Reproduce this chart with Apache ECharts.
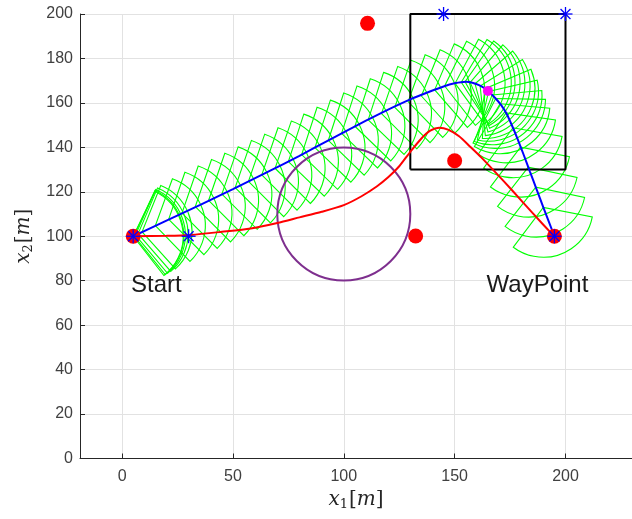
<!DOCTYPE html>
<html>
<head>
<meta charset="utf-8">
<script src="https://cdn.jsdelivr.net/npm/echarts@6/dist/echarts.min.js"></script>
<style>
  html, body { margin: 0; padding: 0; background: #ffffff; }
  #chart { width: 632px; height: 519px; }
</style>
</head>
<body>
<div id="chart"></div>
<script>
// Planned path (blue) from the start to the waypoint
const pathX = [5, 20, 35, 50, 65, 80, 95, 110, 120, 130, 138, 145, 150, 155, 158, 161, 163.5, 166, 168.5, 171, 173.5, 176, 178.5, 181, 184, 187, 190, 195];
const pathY = [100, 107, 114, 121.2, 128.6, 136.2, 144.2, 152, 157, 161.6, 164.8, 167.4, 168.8, 169.5, 169.1, 168, 166.6, 164.5, 162, 159, 155, 149.5, 143.5, 137, 129, 121, 113, 100];

// Alternative trajectory (red)
const trajX = [5, 20, 31, 45, 58, 70, 80, 90, 100, 108, 115, 120, 125, 130, 135, 139, 143, 147, 152, 157, 162, 168, 176, 185, 195];
const trajY = [100, 100.2, 100.6, 102, 103.5, 106, 108.5, 111, 114, 118, 122.5, 126.5, 131.5, 138, 144, 147.5, 148.8, 148, 145, 140.3, 135.5, 129.2, 120.6, 110.6, 99.8];

// Sensor footprint poses along the planned path: position and heading (deg)
const poseX = [5.0, 5.3, 6.0, 7.2, 9.0,
  15, 21, 27, 33, 39, 45, 51, 57, 63, 69, 75, 81, 87, 93, 99, 105, 111, 117, 123, 129, 135,
  141, 145.5, 150.2, 153, 154.7, 157, 159.2, 161.5, 163.7, 165.3, 166.9, 168.5, 170.5,
  173.2, 176.3, 179.7, 183.2, 186.6, 190];
const poseY = [100.0, 100.2, 100.5, 101.1, 102.0,
  104.8, 107.6, 110.4, 113.3, 116.1, 119.0, 121.9, 124.7, 127.6, 130.6, 133.6, 136.7, 139.9, 143.1, 146.3, 149.5, 152.4, 155.2, 158.0, 160.6, 163.1,
  165.9, 167.6, 168.8, 169.3, 169.5, 169.2, 168.6, 167.6, 166.4, 165.2, 163.6, 162.0, 159.6,
  155.5, 148.8, 140.1, 131.1, 122.1, 113.0];
const poseHeading = [6, 7, 8, 9, 10,
  12, 13, 13, 13, 13, 13, 13, 13, 13, 13, 14, 14, 14, 14, 14, 14, 14, 13, 13, 12, 10,
  9, 6, 4, 1, -3, -9, -17, -26, -35, -45, -53, -59, -63,
  -66, -68, -69, -70, -70, -69];
const sensorRange = 22.5;    // footprint radius [m]
const sensorHalfAngle = 58;  // half opening angle [deg]

// Obstacles (red dots)
const obstacleX = [110.7, 132.4, 150];
const obstacleY = [195.8, 100.1, 134];

// Start and waypoint
const endpointX = [5, 195];
const endpointY = [100, 100];

// Reference points (blue asterisks)
const starX = [5, 30, 145, 200, 195];
const starY = [100, 100, 200, 200, 100];

// Check point (magenta)
const checkX = [165];
const checkY = [165.4];

// Target region (black box)
const boxX = [130, 130, 200, 200, 130];
const boxY = [130, 200, 200, 130, 130];

// Circular no-go zone
const zoneX = [100];
const zoneY = [110];
const zoneR = [30];

// Annotations
const noteText = ['Start', 'WayPoint'];
const noteX = [4, 164.4];
const noteY = [78, 78];

// Axis ticks
const xTicks = [0, 50, 100, 150, 200];

const pairs = (xs, ys) => xs.map((x, i) => [x, ys[i]]);

const axisColor = '#262626';
const labelFont = '"Liberation Sans", Arial, Helvetica, sans-serif';
const mathRich = {
  i: { fontFamily: '"DejaVu Serif", "Liberation Serif", serif', fontStyle: 'italic', fontSize: 20, color: axisColor },
  s: { fontFamily: '"DejaVu Serif", "Liberation Serif", serif', fontSize: 13, color: axisColor, verticalAlign: 'bottom', padding: [10, 1, 0, 0] },
  n: { fontFamily: '"DejaVu Serif", "Liberation Serif", serif', fontSize: 20, color: axisColor }
};

const chart = echarts.init(document.getElementById('chart'), null, { renderer: 'canvas' });

chart.setOption({
  animation: false,
  backgroundColor: '#ffffff',
  textStyle: { fontFamily: labelFont },
  grid: { left: 80, top: 14, width: 552, height: 444.5, outerBoundsMode: 'none', containLabel: false },
  xAxis: {
    type: 'value', min: -19, max: 230,
    axisLine: { show: true, onZero: false, lineStyle: { color: axisColor, width: 1 } },
    axisTick: { show: true, inside: true, length: 5, customValues: xTicks, lineStyle: { color: axisColor } },
    axisLabel: { customValues: xTicks, color: '#404040', fontSize: 16, margin: 10, fontFamily: labelFont },
    splitLine: { show: true, lineStyle: { color: '#e2e2e2', width: 1 } },
    name: '{i|x}{s|1}{n|[}{i|m}{n|]}',
    nameLocation: 'middle', nameGap: 30,
    nameTextStyle: { rich: mathRich }
  },
  yAxis: {
    type: 'value', min: 0, max: 200, interval: 20,
    axisLine: { show: true, onZero: false, lineStyle: { color: axisColor, width: 1 } },
    axisTick: { show: true, inside: true, length: 5, lineStyle: { color: axisColor } },
    axisLabel: { color: '#404040', fontSize: 16, margin: 7, fontFamily: labelFont },
    splitLine: { show: true, lineStyle: { color: '#e2e2e2', width: 1 } },
    name: '{i|x}{s|2}{n|[}{i|m}{n|]}',
    nameLocation: 'middle', nameGap: 37,
    nameTextStyle: { rich: mathRich }
  },
  series: [
    {
      // sensor footprints (green sectors)
      type: 'custom',
      z: 1,
      silent: true,
      encode: { x: 0, y: 1 },
      data: poseX.map((x, i) => [x, poseY[i], poseHeading[i]]),
      renderItem: function (params, api) {
        const c = api.coord([api.value(0), api.value(1)]);
        const r = api.size([sensorRange, 0])[0];
        const h = api.value(2) * Math.PI / 180;
        const a = sensorHalfAngle * Math.PI / 180;
        return {
          type: 'sector',
          shape: { cx: c[0], cy: c[1], r: r, r0: 0, startAngle: -h - a, endAngle: -h + a, clockwise: true },
          style: { fill: 'none', stroke: '#00ff00', lineWidth: 1.1 }
        };
      }
    },
    {
      // target region
      type: 'line', z: 2, silent: true,
      data: pairs(boxX, boxY),
      symbol: 'none',
      lineStyle: { color: '#000000', width: 2 }
    },
    {
      // circular no-go zone
      type: 'custom', z: 3, silent: true,
      encode: { x: 0, y: 1 },
      data: zoneX.map((x, i) => [x, zoneY[i], zoneR[i]]),
      renderItem: function (params, api) {
        const c = api.coord([api.value(0), api.value(1)]);
        const r = api.size([api.value(2), 0])[0];
        return {
          type: 'circle',
          shape: { cx: c[0], cy: c[1], r: r },
          style: { fill: 'none', stroke: '#7e2f8e', lineWidth: 2 }
        };
      }
    },
    {
      // alternative trajectory
      type: 'line', z: 4, silent: true,
      data: pairs(trajX, trajY),
      symbol: 'none', smooth: 0.25,
      lineStyle: { color: '#ff0000', width: 2 }
    },
    {
      // planned path
      type: 'line', z: 5, silent: true,
      data: pairs(pathX, pathY),
      symbol: 'none', smooth: 0.2,
      lineStyle: { color: '#0000ff', width: 2 }
    },
    {
      // obstacles, start and waypoint
      type: 'scatter', z: 6, silent: true,
      data: pairs(obstacleX, obstacleY).concat(pairs(endpointX, endpointY)),
      symbol: 'circle', symbolSize: 15,
      itemStyle: { color: '#ff0000', opacity: 1 }
    },
    {
      // check point
      type: 'scatter', z: 7, silent: true,
      data: pairs(checkX, checkY),
      symbol: 'circle', symbolSize: 10,
      itemStyle: { color: '#ff00ff', opacity: 1 }
    },
    {
      // reference points drawn as asterisks
      type: 'custom', z: 8, silent: true, clip: false,
      encode: { x: 0, y: 1 },
      data: pairs(starX, starY),
      renderItem: function (params, api) {
        const c = api.coord([api.value(0), api.value(1)]);
        const s = 7, d = s * 0.7071;
        const st = { stroke: '#0000ff', lineWidth: 1.3 };
        return {
          type: 'group',
          children: [
            { type: 'line', shape: { x1: c[0] - s, y1: c[1], x2: c[0] + s, y2: c[1] }, style: st },
            { type: 'line', shape: { x1: c[0], y1: c[1] - s, x2: c[0], y2: c[1] + s }, style: st },
            { type: 'line', shape: { x1: c[0] - d, y1: c[1] - d, x2: c[0] + d, y2: c[1] + d }, style: st },
            { type: 'line', shape: { x1: c[0] - d, y1: c[1] + d, x2: c[0] + d, y2: c[1] - d }, style: st }
          ]
        };
      }
    },
    {
      // annotations
      type: 'custom', z: 9, silent: true, clip: false,
      encode: { x: 0, y: 1 },
      data: noteX.map((x, i) => [x, noteY[i], i]),
      renderItem: function (params, api) {
        const c = api.coord([api.value(0), api.value(1)]);
        return {
          type: 'text',
          style: {
            text: noteText[api.value(2)],
            x: c[0], y: c[1],
            fill: '#1a1a1a',
            font: '24px "Liberation Sans", Arial, sans-serif',
            align: 'left', verticalAlign: 'middle'
          }
        };
      }
    }
  ]
});
</script>
</body>
</html>
